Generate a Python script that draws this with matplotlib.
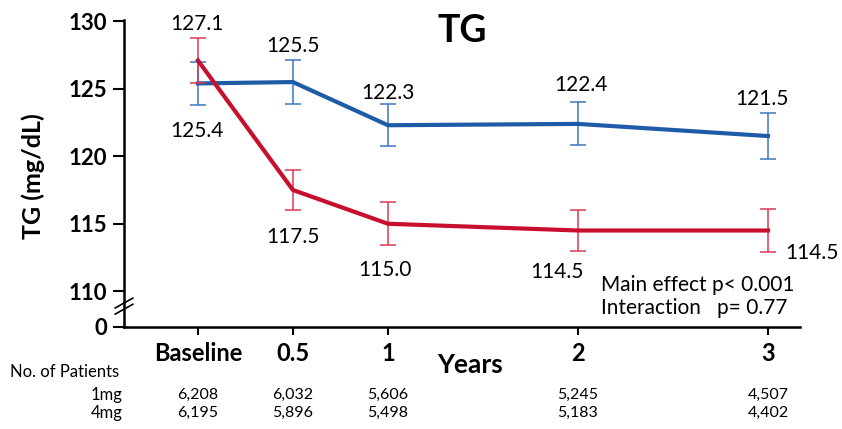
import matplotlib

matplotlib.use("Agg")
import matplotlib.pyplot as plt
import matplotlib.transforms as mtransforms

plt.rcParams["font.family"] = ["Lato", "DejaVu Sans"]

years = [0, 0.5, 1, 2, 3]
tick_labels = ["Baseline", "0.5", "1", "2", "3"]

tg_1mg = [125.4, 125.5, 122.3, 122.4, 121.5]
err_1mg = [1.6, 1.6, 1.55, 1.6, 1.7]
tg_4mg = [127.1, 117.5, 115.0, 114.5, 114.5]
err_4mg = [1.65, 1.5, 1.6, 1.5, 1.6]

patients_1mg = ["6,208", "6,032", "5,606", "5,245", "4,507"]
patients_4mg = ["6,195", "5,896", "5,498", "5,183", "4,402"]

BLUE = "#1f5ca8"
RED = "#c8102e"


def main():
    fig = plt.figure(figsize=(8.42, 4.29), dpi=100)
    ax = fig.add_axes([0.1473, 0.2378, 0.8027, 0.7156])

    # Lines with error bars
    ax.errorbar(years, tg_1mg, yerr=err_1mg, color=BLUE, lw=3, elinewidth=1.1,
                capsize=6, capthick=1.1, ecolor="#3a78c0", zorder=3)
    ax.errorbar(years, tg_4mg, yerr=err_4mg, color=RED, lw=3, elinewidth=1.1,
                capsize=6, capthick=1.1, ecolor="#d83a52", zorder=4)

    # Value labels (offsets in points)
    offs_1mg = [(-1, -34), (0, 26), (0, 23), (2, 28), (-4, 27)]
    offs_4mg = [(-1, 26), (0, -34), (-2, -33), (-15, -30), (32, -16)]
    for x, v, (dx, dy) in zip(years, tg_1mg, offs_1mg):
        ax.annotate(f"{v:.1f}", (x, v), xytext=(dx, dy), textcoords="offset points",
                    ha="center", va="center", fontsize=15)
    for x, v, (dx, dy) in zip(years, tg_4mg, offs_4mg):
        ax.annotate(f"{v:.1f}", (x, v), xytext=(dx, dy), textcoords="offset points",
                    ha="center", va="center", fontsize=15)

    # Axes styling
    ax.set_xlim(-0.389, 3.168)
    ax.set_ylim(107.35, 130.1)
    ax.set_yticks([107.35, 110, 115, 120, 125, 130])
    ax.set_yticklabels(["0", "110", "115", "120", "125", "130"], fontsize=16,
                       fontweight="bold")
    ax.set_xticks(years)
    ax.set_xticklabels(tick_labels, fontsize=17, fontweight="bold")
    ax.tick_params(axis="y", length=8, width=1.5, pad=4)
    ax.tick_params(axis="x", length=6, width=1.5, pad=5)
    for side in ["top", "right"]:
        ax.spines[side].set_visible(False)
    for side in ["left", "bottom"]:
        ax.spines[side].set_linewidth(1.8)

    ax.set_ylabel("TG (mg/dL)", fontsize=18, fontweight="bold")
    ax.yaxis.set_label_coords(-0.117, 0.49)
    ax.set_title("TG", fontsize=27, fontweight="bold", x=0.5, y=0.9)

    # Axis break marks
    for yc in [0.058, 0.078]:
        ax.plot([-0.013, 0.013], [yc - 0.016, yc + 0.016], transform=ax.transAxes,
                color="black", lw=1.2, clip_on=False)

    ax.text(0.706, 0.137, "Main effect p< 0.001", transform=ax.transAxes,
            fontsize=15, va="center")
    ax.text(0.706, 0.062, "Interaction   p= 0.77", transform=ax.transAxes,
            fontsize=15, va="center")

    fig.text(0.558, 0.149, "Years", fontsize=19, fontweight="bold", ha="center",
             va="center")

    # Patient numbers table
    trans = mtransforms.blended_transform_factory(ax.transData, fig.transFigure)
    fig.text(0.012, 0.133, "No. of Patients", fontsize=12, va="center")
    fig.text(0.146, 0.0793, "1mg", fontsize=12, va="center", ha="right")
    fig.text(0.146, 0.0373, "4mg", fontsize=12, va="center", ha="right")
    for x, n1, n4 in zip(years, patients_1mg, patients_4mg):
        ax.text(x, 0.0793, n1, transform=trans, fontsize=11.5, ha="center", va="center")
        ax.text(x, 0.0373, n4, transform=trans, fontsize=11.5, ha="center", va="center")

    fig.savefig("out.png", dpi=100)


if __name__ == "__main__":
    main()
